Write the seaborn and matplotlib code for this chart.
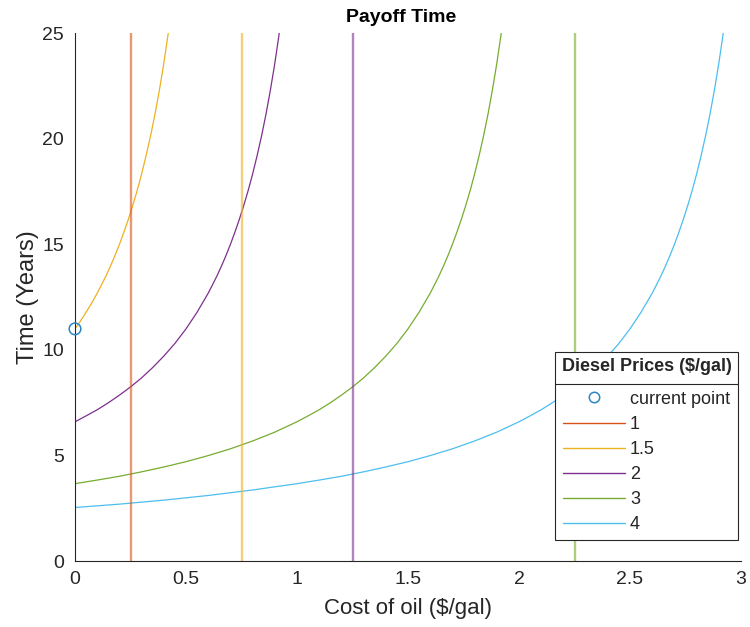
import matplotlib
matplotlib.use("Agg")
import matplotlib.pyplot as plt
import seaborn as sns
import pandas as pd
from matplotlib.lines import Line2D

# Diesel price scenarios ($/gal) and their MATLAB-style colours
prices = ["1", "1.5", "2", "3", "4"]
colors = ["#D95319", "#EDB120", "#7E2F8E", "#77AC30", "#4DBEEE"]

# Payoff-time curves (oil cost $/gal -> years), one pair of arrays per price
oil_15 = [0.00, 0.02, 0.04, 0.06, 0.08, 0.10, 0.12, 0.14, 0.16, 0.18, 0.20,
          0.22, 0.24, 0.26, 0.28, 0.30, 0.32, 0.34, 0.36, 0.38, 0.40, 0.42]
time_15 = [11.00, 11.30, 11.62, 11.96, 12.31, 12.69, 13.10, 13.52, 13.98, 14.47, 15.00,
           15.57, 16.18, 16.84, 17.55, 18.33, 19.19, 20.12, 21.15, 22.30, 23.57, 25.00]

oil_2 = [0.00, 0.05, 0.10, 0.15, 0.20, 0.25, 0.30, 0.35, 0.40, 0.45, 0.50, 0.55,
         0.60, 0.62, 0.64, 0.66, 0.68, 0.70, 0.72, 0.74, 0.76, 0.78, 0.80, 0.82,
         0.84, 0.86, 0.88, 0.90, 0.92]
time_2 = [6.60, 6.88, 7.17, 7.50, 7.86, 8.25, 8.68, 9.17, 9.71, 10.31, 11.00, 11.79,
          12.69, 13.10, 13.52, 13.98, 14.47, 15.00, 15.57, 16.18, 16.84, 17.55, 18.33, 19.19,
          20.12, 21.15, 22.30, 23.57, 25.00]

oil_3 = [0.00, 0.10, 0.20, 0.30, 0.40, 0.50, 0.60, 0.70, 0.80, 0.90, 1.00, 1.05,
         1.10, 1.15, 1.20, 1.25, 1.30, 1.35, 1.40, 1.45, 1.50, 1.55, 1.60, 1.62,
         1.64, 1.66, 1.68, 1.70, 1.72, 1.74, 1.76, 1.78, 1.80, 1.82, 1.84, 1.86,
         1.88, 1.90, 1.92]
time_3 = [3.67, 3.84, 4.02, 4.23, 4.46, 4.71, 5.00, 5.32, 5.69, 6.11, 6.60, 6.88,
          7.17, 7.50, 7.86, 8.25, 8.68, 9.17, 9.71, 10.31, 11.00, 11.79, 12.69, 13.10,
          13.52, 13.98, 14.47, 15.00, 15.57, 16.18, 16.84, 17.55, 18.33, 19.19, 20.12, 21.15,
          22.30, 23.57, 25.00]

oil_4 = [0.00, 0.20, 0.40, 0.60, 0.80, 1.00, 1.10, 1.20, 1.30, 1.40, 1.50, 1.60,
         1.70, 1.80, 1.90, 2.00, 2.05, 2.10, 2.15, 2.20, 2.25, 2.30, 2.35, 2.40,
         2.45, 2.50, 2.55, 2.60, 2.62, 2.64, 2.66, 2.68, 2.70, 2.72, 2.74, 2.76,
         2.78, 2.80, 2.82, 2.84, 2.86, 2.88, 2.90, 2.92]
time_4 = [2.54, 2.70, 2.89, 3.11, 3.37, 3.67, 3.84, 4.02, 4.23, 4.46, 4.71, 5.00,
          5.32, 5.69, 6.11, 6.60, 6.88, 7.17, 7.50, 7.86, 8.25, 8.68, 9.17, 9.71,
          10.31, 11.00, 11.79, 12.69, 13.10, 13.52, 13.98, 14.47, 15.00, 15.57, 16.18, 16.84,
          17.55, 18.33, 19.19, 20.12, 21.15, 22.30, 23.57, 25.00]

# Break-even oil cost for each price (vertical asymptotes)
breakeven = [0.25, 0.75, 1.25, 2.25]
breakeven_prices = ["1", "1.5", "2", "3"]

# Current operating point
current_oil = [0.0]
current_time = [11.0]

sns.set_style("white")
plt.rcParams["font.family"] = ["Liberation Sans", "DejaVu Sans"]

fig = plt.figure(figsize=(7.5, 6.27), dpi=100)
ax = fig.add_axes([0.1, 0.105, 0.888, 0.842])

curves = {"1.5": (oil_15, time_15), "2": (oil_2, time_2),
          "3": (oil_3, time_3), "4": (oil_4, time_4)}
cmap = dict(zip(prices, colors))

for name, (xs, ys) in curves.items():
    df = pd.DataFrame({"oil": xs, "time": ys})
    sns.lineplot(data=df, x="oil", y="time", color=cmap[name], lw=0.9, ax=ax,
                 estimator=None, sort=False)

for xv, name in zip(breakeven, breakeven_prices):
    df = pd.DataFrame({"oil": [xv, xv], "time": [0, 25]})
    sns.lineplot(data=df, x="oil", y="time", color=cmap[name], lw=1.7, alpha=0.6,
                 ax=ax, estimator=None, sort=False)

sns.scatterplot(x=current_oil, y=current_time, ax=ax, marker="o", s=70,
                facecolor="none", edgecolor="#2E86C1", linewidth=1.1,
                clip_on=False, zorder=5)

ax.set_xlim(0, 3)
ax.set_ylim(0, 25)
ax.set_xticks([0, 0.5, 1, 1.5, 2, 2.5, 3])
ax.set_xticklabels(["0", "0.5", "1", "1.5", "2", "2.5", "3"])
ax.set_yticks([0, 5, 10, 15, 20, 25])
ax.tick_params(direction="in", length=5, width=0.8, labelsize=14,
               colors="#262626")
ax.tick_params(axis="y", pad=8)
ax.tick_params(axis="x", pad=7)
for side in ["top", "right"]:
    ax.spines[side].set_visible(False)
for side in ["left", "bottom"]:
    ax.spines[side].set_color("#262626")
    ax.spines[side].set_linewidth(0.8)

ax.set_xlabel("Cost of oil ($/gal)", fontsize=16, color="#262626", labelpad=7)
ax.set_ylabel("Time (Years)", fontsize=17, color="#262626", labelpad=2)
ax.set_title("Payoff Time", fontsize=14, fontweight="bold", color="black",
             pad=8, x=0.49)

handles = [Line2D([], [], ls="none", marker="o", markersize=7.5,
                  markerfacecolor="none", markeredgecolor="#2E86C1", markeredgewidth=1.1)]
handles += [Line2D([], [], color=c, lw=1.0) for c in colors]
labels = ["current point"] + prices
leg = ax.legend(handles, labels, title="Diesel Prices ($/gal)",
                loc="upper right", bbox_to_anchor=(0.9955, 0.396),
                fontsize=13, handlelength=3.4, handletextpad=0.3,
                labelspacing=0.45, borderpad=0.35, borderaxespad=0,
                fancybox=False, framealpha=1, edgecolor="#262626",
                alignment="center")
leg.get_title().set_fontweight("bold")
leg.get_title().set_fontsize(13)
leg.get_frame().set_linewidth(0.8)
# extra room between the title band and the entries
leg._legend_box.sep = 11

# separator line under the legend title
fig.canvas.draw()
renderer = fig.canvas.get_renderer()
fbox = leg.get_frame().get_window_extent(renderer)
tbox = leg.get_title().get_window_extent(renderer)
first = leg.get_texts()[0].get_window_extent(renderer)
ysep = 0.5 * (tbox.y0 + first.y1) - 1
inv = fig.transFigure.inverted()
(x0, y0), (x1, _) = inv.transform([(fbox.x0, ysep), (fbox.x1, ysep)])
fig.add_artist(Line2D([x0, x1], [y0, y0], color="#262626", lw=0.8))

fig.savefig("out.png", dpi=100)
